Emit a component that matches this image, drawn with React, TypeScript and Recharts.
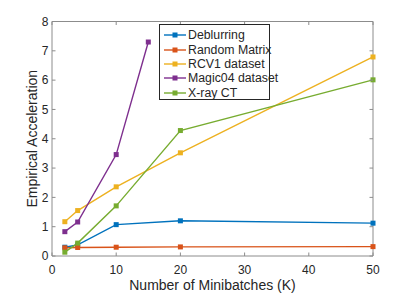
import { LineChart, Line, XAxis, YAxis } from 'recharts';

const batches = [2, 4, 10, 20, 50];
const magicBatches = [2, 4, 10, 15];

const deblurring = [0.3, 0.38, 1.07, 1.2, 1.12];
const randomMatrix = [0.28, 0.29, 0.3, 0.31, 0.32];
const rcv1 = [1.17, 1.55, 2.36, 3.52, 6.79];
const magic04 = [0.83, 1.16, 3.46, 7.3];
const xrayCT = [0.13, 0.44, 1.71, 4.28, 6.01];

const xTicks = [0, 10, 20, 30, 40, 50];
const yTicks = [0, 1, 2, 3, 4, 5, 6, 7, 8];

const font = '"Liberation Sans", Arial, sans-serif';
const axisColor = '#8c8c8c';
const textColor = '#262626';

const series = [
  { name: 'Deblurring', color: '#0072BD', xs: batches, ys: deblurring },
  { name: 'Random Matrix', color: '#D95319', xs: batches, ys: randomMatrix },
  { name: 'RCV1 dataset', color: '#EDB120', xs: batches, ys: rcv1 },
  { name: 'Magic04 dataset', color: '#7E2F8E', xs: magicBatches, ys: magic04 },
  { name: 'X-ray CT', color: '#77AC30', xs: batches, ys: xrayCT },
].map(s => ({ ...s, data: s.xs.map((k, i) => ({ k, v: s.ys[i] })) }));

const Square = (color: string) => (props: any) => {
  const { cx, cy, index } = props;
  if (cx == null || cy == null) return <g key={index} />;
  return <rect key={index} x={cx - 2.5} y={cy - 2.5} width={5} height={5} fill={color} />;
};

const BottomTick = (props: any) => {
  const { x, y, payload } = props;
  return (
    <g>
      <line x1={x} x2={x} y1={y} y2={y - 3.5} stroke={axisColor} />
      <text x={x} y={y + 17.5} textAnchor="middle" fontSize={12} fill={textColor} fontFamily={font}>
        {payload.value}
      </text>
    </g>
  );
};

const LeftTick = (props: any) => {
  const { x, y, payload } = props;
  return (
    <g>
      <line x1={x} x2={x + 3.5} y1={y} y2={y} stroke={axisColor} />
      <text x={x - 3.5} y={y + 4.3} textAnchor="end" fontSize={12} fill={textColor} fontFamily={font}>
        {payload.value}
      </text>
    </g>
  );
};

const TopTick = (props: any) => {
  const { x, y } = props;
  return <line x1={x} x2={x} y1={y} y2={y + 3.5} stroke={axisColor} />;
};

const RightTick = (props: any) => {
  const { x, y } = props;
  return <line x1={x} x2={x - 3.5} y1={y} y2={y} stroke={axisColor} />;
};

const XLabel = (props: any) => {
  const { viewBox } = props;
  return (
    <text x={viewBox.x + viewBox.width / 2} y={viewBox.y + 33.5} textAnchor="middle" fontSize={14} fill={textColor} fontFamily={font}>
      Number of Minibatches (K)
    </text>
  );
};

const YLabel = (props: any) => {
  const { viewBox } = props;
  const cx = viewBox.x + 32;
  const cy = viewBox.y + viewBox.height / 2;
  return (
    <text x={cx} y={cy} transform={`rotate(-90 ${cx} ${cy})`} textAnchor="middle" dominantBaseline="central" fontSize={14} fill={textColor} fontFamily={font}>
      Empirical Acceleration
    </text>
  );
};

export default function App() {
  return (
    <div style={{ position: 'absolute', left: 0, top: 0, width: 411, height: 294, background: '#fff' }}>
      <LineChart width={411} height={294} margin={{ top: 11.5, right: 28, bottom: 0, left: 0 }}>
        <XAxis
          dataKey="k"
          type="number"
          domain={[0, 50]}
          ticks={xTicks}
          height={38}
          tickSize={0}
          tickMargin={0}
          tickLine={false}
          stroke={axisColor}
          tick={<BottomTick />}
          label={<XLabel />}
          allowDuplicatedCategory={false}
        />
        <XAxis
          xAxisId="top"
          orientation="top"
          dataKey="k"
          type="number"
          domain={[0, 50]}
          ticks={xTicks}
          height={10}
          tickSize={0}
          tickMargin={0}
          tickLine={false}
          stroke={axisColor}
          tick={<TopTick />}
          allowDuplicatedCategory={false}
        />
        <YAxis
          type="number"
          domain={[0, 8]}
          ticks={yTicks}
          width={52}
          tickSize={0}
          tickMargin={0}
          tickLine={false}
          stroke={axisColor}
          tick={<LeftTick />}
          label={<YLabel />}
        />
        <YAxis
          yAxisId="right"
          orientation="right"
          type="number"
          domain={[0, 8]}
          ticks={yTicks}
          width={10}
          tickSize={0}
          tickMargin={0}
          tickLine={false}
          stroke={axisColor}
          tick={<RightTick />}
        />
        {/* invisible series so the top/right frame axes get drawn */}
        <Line
          xAxisId="top"
          yAxisId="right"
          data={series[0].data}
          dataKey="v"
          stroke="none"
          dot={false}
          activeDot={false}
          legendType="none"
          isAnimationActive={false}
        />
        {series.map(s => (
          <Line
            key={s.name}
            data={s.data}
            dataKey="v"
            name={s.name}
            stroke={s.color}
            strokeWidth={1.4}
            dot={Square(s.color)}
            activeDot={false}
            isAnimationActive={false}
          />
        ))}
      </LineChart>
      <div
        style={{
          position: 'absolute',
          left: 159,
          top: 24,
          width: 111,
          height: 76,
          border: `1px solid ${textColor}`,
          background: '#fff',
          padding: '3px 0 0 3px',
          boxSizing: 'border-box',
        }}
      >
        {series.map(s => (
          <div key={s.name} style={{ display: 'flex', alignItems: 'center', height: 14.35 }}>
            <svg width={24} height={14} style={{ flex: 'none' }}>
              <line x1={1} x2={23} y1={7} y2={7} stroke={s.color} strokeWidth={1.4} />
              <rect x={9.5} y={4.5} width={5} height={5} fill={s.color} />
            </svg>
            <span style={{ fontFamily: font, fontSize: 12.3, color: textColor, whiteSpace: 'nowrap', marginLeft: 1 }}>{s.name}</span>
          </div>
        ))}
      </div>
    </div>
  );
}
